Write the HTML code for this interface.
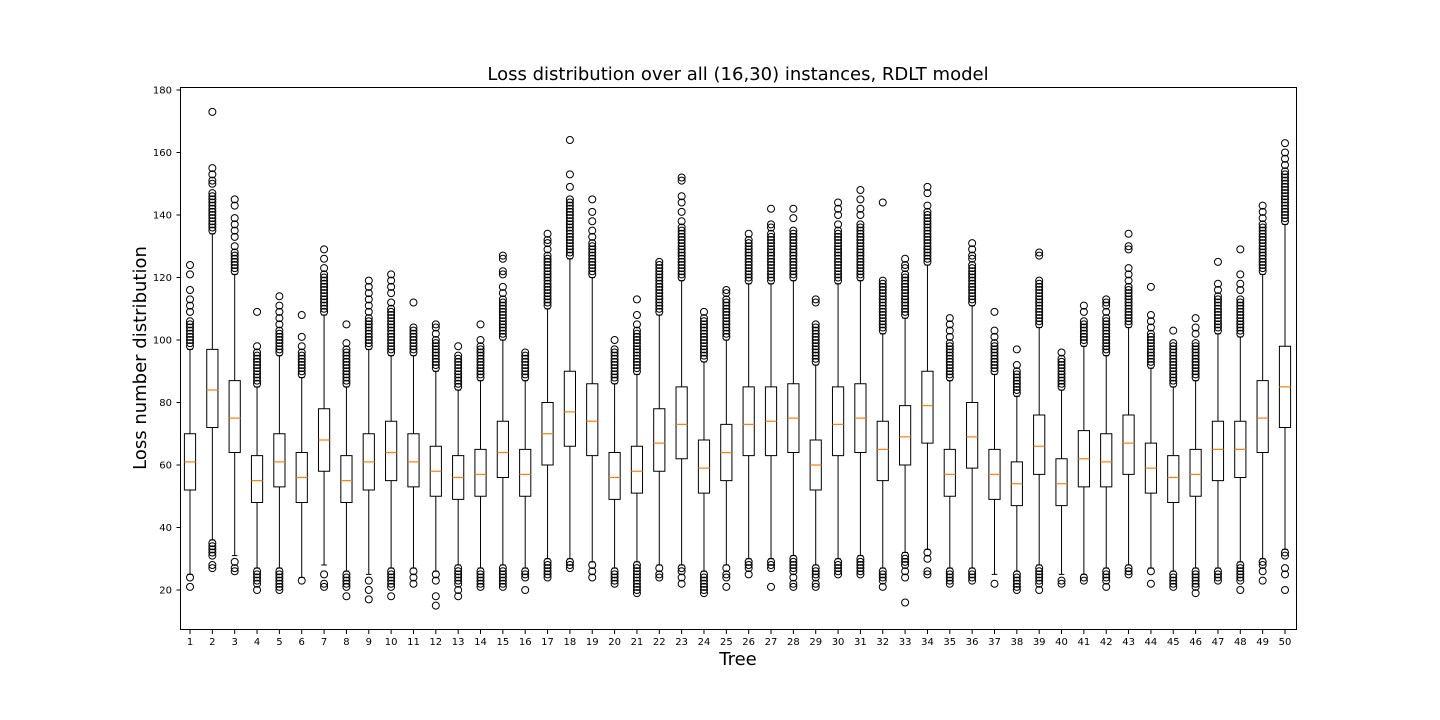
<!DOCTYPE html>
<html><head><meta charset="utf-8"><style>
html,body{margin:0;padding:0;background:#fff;}
svg{display:block;font-family:"DejaVu Sans","Liberation Sans",sans-serif;}
</style></head><body>
<svg id="chart" width="1440" height="720" viewBox="0 0 1440 720" xmlns="http://www.w3.org/2000/svg">
<rect width="1440" height="720" fill="#fff"/>
<text x="738" y="80" text-anchor="middle" font-size="18">Loss distribution over all (16,30) instances, RDLT model</text>
<text x="0" y="0" transform="translate(146,358) rotate(-90)" text-anchor="middle" font-size="18">Loss number distribution</text>
<text x="738" y="665" text-anchor="middle" font-size="18">Tree</text>
<g id="marks"></g>
<rect x="180.5" y="87.5" width="1116" height="542" fill="none" stroke="#000" stroke-width="1"/>
</svg>
<script>
const q3s=[70,97,87,63,70,64,78,63,70,74,70,66,63,65,74,65,80,90,86,64,66,78,85,68,73,85,85,86,68,85,86,74,79,90,65,80,65,61,76,62,71,70,76,67,63,65,74,74,87,98];
const meds=[61,84,75,55,61,56,68,55,61,64,61,58,56,57,64,57,70,77,74,56,58,67,73,59,64,73,74,75,60,73,75,65,69,79,57,69,57,54,66,54,62,61,67,59,56,57,65,65,75,85];
const q1s=[52,72,64,48,53,48,58,48,52,55,53,50,49,50,56,50,60,66,63,49,51,58,62,51,55,63,63,64,52,63,64,55,60,67,50,59,49,47,57,47,53,53,57,51,48,50,55,56,64,72];
const whHi=[97,134,121,85,95,88,108,85,97,95,95,90,84,87,100,87,110,126,120,86,89,108,119,93,100,118,118,119,92,118,119,102,107,124,87,111,89,82,104,84,98,95,104,91,85,87,102,101,121,137];
const hiDenseTop=[106,147,128,96,103,96,120,97,107,110,104,100,95,98,113,96,127,145,131,97,103,123,136,107,113,131,134,135,105,135,136,118,121,140,99,124,98,90,119,93,106,107,117,102,98,99,114,112,137,153];
const hiExtra=[[109,111,113,116,121,124],[150,151,153,155,173],[130,133,135,137,139,143,145],[98,109],[105,107,109,111,114],[98,101,108],[121,123,126,129],[99,105],[109,111,113,115,117,119],[112,115,117,119,121],[112],[102,104,105],[98],[100,105],[115,117,121,122,126,127],[],[129,131,132,134],[149,153,164],[133,135,138,141,145],[100],[105,108,113],[124,125],[138,141,144,146,151,152],[109],[115,116],[132,134],[136,137,142],[139,142],[112,113],[137,140,142,144],[137,140,142,145,148],[119,144],[123,124,126],[141,143,147,149],[101,103,105,107],[126,127,129,131],[99,101,103,109],[92,97],[127,128],[94,96],[109,111],[109,111,112,113],[119,121,123,129,130,134],[104,106,108,117],[99,103],[102,104,107],[116,118,125],[113,116,118,121,129],[139,141,143],[154,156,158,160,163]];
const whLo=[25,36,31,27,27,24,28,26,25,27,27,26,28,27,28,27,30,30,29,27,29,28,28,26,28,30,30,31,28,30,31,27,32,33,27,27,25,26,28,25,25,27,28,27,26,27,27,29,30,33];
const loDenseBot=[25,31,31,22,20,24,28,21,25,21,27,26,22,21,22,24,25,27,29,22,20,28,27,20,27,28,28,26,24,25,25,24,28,32,22,23,25,20,22,25,25,23,25,26,21,21,23,23,28,31];
const loExtra=[[24,21],[28,27],[29,27,26],[20],[],[23],[25,22,21],[18],[23,20,17],[18],[26,24,22],[25,23,18,15],[20,18],[],[21],[20],[24],[],[28,26,24],[],[19],[27,25,24],[26,24,22],[19],[25,24,21],[27,25],[27,21],[24,22,21],[22,21],[],[],[23,21],[26,24,16],[30,26,25],[],[],[22],[],[20],[23,22],[24,23],[21],[],[22],[],[19],[],[20],[26,23],[27,25,20]];
const yTicks=[20,40,60,80,100,120,140,160,180];

const NS="http://www.w3.org/2000/svg";
const g=document.getElementById('marks');
const yS=v=>590-(v-20)*3.125;
const xS=i=>190+i*(1285-190)/49;
const BW=11.2;
function mk(tag,attrs){const e=document.createElementNS(NS,tag);for(const k in attrs)e.setAttribute(k,attrs[k]);g.appendChild(e);return e;}

yTicks.forEach(t=>{
  const y=yS(t);
  const tk=mk('line',{x1:176.5,x2:180.5,y1:y,y2:y,stroke:'#000','stroke-width':1});
  
  
  const tx=mk('text',{x:172,y:y+3.5,'text-anchor':'end','font-size':10});
  
  
  tx.textContent=t;
});
function circ(x,v){
  const c=mk('circle',{cx:x,cy:yS(v),r:3.5,fill:'none',stroke:'#000','stroke-width':1});
  
  
}
for(let i=0;i<q3s.length;i++){
  const x=xS(i);
  const tk=mk('line',{x1:x,x2:x,y1:630,y2:634,stroke:'#000','stroke-width':1});
  
  
  const tx=mk('text',{x:x,y:645,'text-anchor':'middle','font-size':10});
  
  
  tx.textContent=i+1;
  const w1=mk('line',{x1:x,x2:x,y1:yS(q3s[i]),y2:yS(whHi[i]),stroke:'#000','stroke-width':1});
  
  
  const w2=mk('line',{x1:x,x2:x,y1:yS(q1s[i]),y2:yS(whLo[i]),stroke:'#000','stroke-width':1});
  
  
  const c1=mk('line',{x1:x-BW/4,x2:x+BW/4,y1:yS(whHi[i]),y2:yS(whHi[i]),stroke:'#000','stroke-width':1});
  
  
  const c2=mk('line',{x1:x-BW/4,x2:x+BW/4,y1:yS(whLo[i]),y2:yS(whLo[i]),stroke:'#000','stroke-width':1});
  
  
  const b=mk('rect',{x:x-BW/2,y:yS(q3s[i]),width:BW,height:yS(q1s[i])-yS(q3s[i]),fill:'none',stroke:'#000','stroke-width':1});
  
  
  const m=mk('line',{x1:x-BW/2,x2:x+BW/2,y1:yS(meds[i]),y2:yS(meds[i]),stroke:'#ff7f0e','stroke-width':1.2});
  
  
  for(let v=whHi[i]+1;v<=hiDenseTop[i];v++)circ(x,v);
  hiExtra[i].forEach(v=>circ(x,v));
  for(let v=whLo[i]-1;v>=loDenseBot[i];v--)circ(x,v);
  loExtra[i].forEach(v=>circ(x,v));
}
</script>
</body></html>
